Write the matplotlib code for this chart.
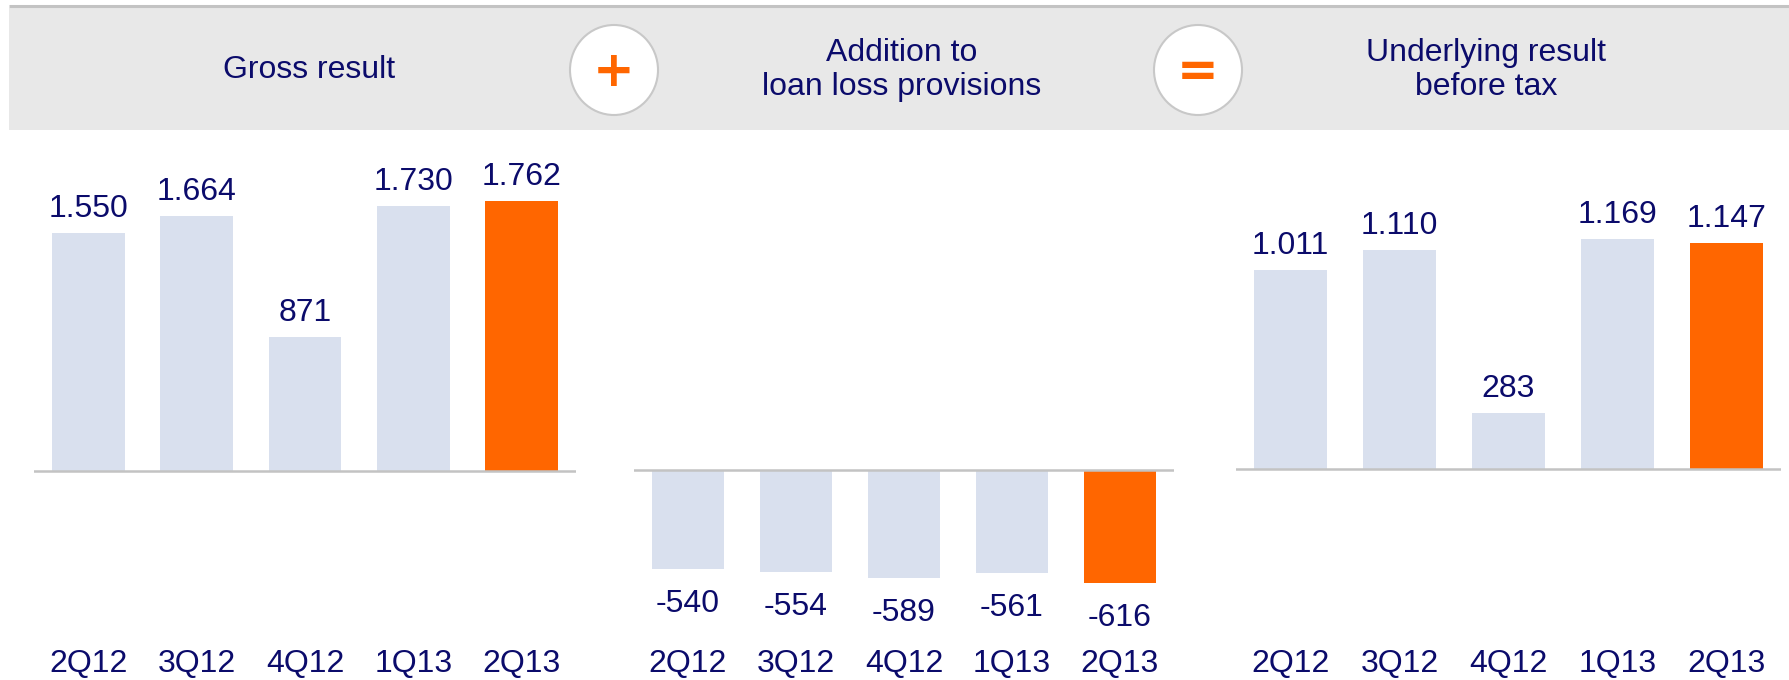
"""Gross result + loan loss provisions = underlying result before tax."""
import matplotlib
matplotlib.use('Agg')
import matplotlib.pyplot as plt
from matplotlib.patches import Rectangle, Ellipse

plt.rcParams.update({
    'font.family': ['Liberation Sans', 'DejaVu Sans'],
    'font.size': 23,
})

# ---------------------------------------------------------------------------
# data
# ---------------------------------------------------------------------------
quarters = ['2Q12', '3Q12', '4Q12', '1Q13', '2Q13']
gross_result = [1550, 1664, 871, 1730, 1762]
loan_loss = [-540, -554, -589, -561, -616]
underlying = [1011, 1110, 283, 1169, 1147]
titles = ['Gross result', 'Addition to\nloan loss provisions',
          'Underlying result\nbefore tax']
operators = ['+', '=']

NAVY = '#0b0b6b'
ORANGE = '#ff6600'
LIGHT = '#d9e0ee'
GREY = '#c3c3c3'

W, H = 1789, 680
fig = plt.figure(figsize=(W / 100, H / 100), dpi=100)

# background axes in pixel coordinates for the header strip
bg = fig.add_axes([0, 0, 1, 1])
bg.set_xlim(0, W)
bg.set_ylim(H, 0)
bg.axis('off')
bg.add_patch(Rectangle((9, 8), W - 9, 122, color='#e8e8e8', lw=0))
bg.plot([9, W], [6, 6], color=GREY, lw=2.2, solid_capstyle='butt')

title_x = [309, 902, 1486]
for x, t in zip(title_x, titles):
    bg.text(x, 70, t, ha='center', va='center', color=NAVY,
            linespacing=1.2)

for x, op in zip([614, 1198], operators):
    bg.add_patch(Ellipse((x, 70), 88, 90, facecolor='white',
                         edgecolor='#c8c8c8', lw=1.5))
    bg.text(x, 72, op, ha='center', va='center', color=ORANGE,
            fontsize=36, fontweight='bold', family='DejaVu Sans')

# ---------------------------------------------------------------------------
# bar panels
# ---------------------------------------------------------------------------
AX_TOP = 135


def panel(x0, x1, base_px, px_per_unit, values):
    ax = fig.add_axes([x0 / W, 0, (x1 - x0) / W, (H - AX_TOP) / H])
    ax.set_xlim(-0.5, 4.5)
    ax.set_ylim(-(H - base_px) / px_per_unit, (base_px - AX_TOP) / px_per_unit)
    ax.axis('off')
    colors = [LIGHT] * (len(values) - 1) + [ORANGE]
    ax.bar(range(len(values)), values, width=0.67, color=colors, zorder=2)
    ax.axhline(0, color=GREY, lw=1.8, zorder=3)
    for i, v in enumerate(values):
        lab = format(v, ',').replace(',', '.')
        off = 24 if v >= 0 else -35
        ax.annotate(lab, (i, v), xytext=(0, off), textcoords='offset pixels',
                    ha='center', va='center', color=NAVY)
        ax.text(i, (H - 664) / (H - AX_TOP), quarters[i], ha='center',
                va='center', color=NAVY, transform=ax.get_xaxis_transform())
    return ax


panel(34, 576, 471, 0.1533, gross_result)
panel(634, 1174, 470, 0.184, loan_loss)
panel(1236, 1781, 468.5, 0.1966, underlying)

fig.savefig('out.png', dpi=100)
